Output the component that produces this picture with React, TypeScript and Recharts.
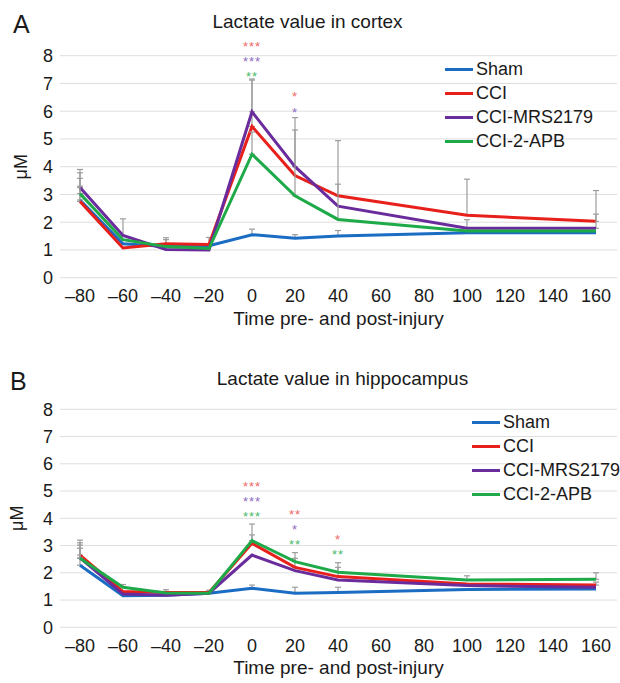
import { CartesianGrid, ErrorBar, Label, Legend, Line, LineChart, ReferenceDot, XAxis, YAxis } from "recharts";

const timePoints = [-80, -60, -40, -20, 0, 20, 40, 100, 160];
const xTicks = [-80, -60, -40, -20, 0, 20, 40, 60, 80, 100, 120, 140, 160];
const yTicks = [0, 1, 2, 3, 4, 5, 6, 7, 8];
const seriesKeys = ["sham", "cci", "mrs", "apb"];
const seriesNames = ["Sham", "CCI", "CCI-MRS2179", "CCI-2-APB"];

// A: cortex, mean lactate (µM)
const cortexSham = [2.8, 1.22, 1.12, 1.15, 1.55, 1.42, 1.5, 1.62, 1.62];
const cortexCci = [2.75, 1.07, 1.22, 1.2, 5.45, 3.68, 2.95, 2.25, 2.03];
const cortexMrs = [3.25, 1.52, 1.02, 1.0, 5.98, 4.0, 2.58, 1.78, 1.78];
const cortexApb = [3.03, 1.37, 1.12, 1.05, 4.45, 2.95, 2.1, 1.68, 1.68];
// upward error bars, null = none shown
const cortexShamErr = [0.78, null, 0.25, null, 0.2, 0.13, 0.2, null, null];
const cortexCciErr = [0.55, null, 0.22, 0.25, 1.67, null, 1.99, 1.3, 1.11];
const cortexMrsErr = [0.65, 0.6, null, null, 1.18, 1.77, null, 0.31, 0.51];
const cortexApbErr = [0.75, null, null, null, 0.8, 2.37, 1.27, null, null];

// B: hippocampus
const hippoSham = [2.28, 1.16, 1.18, 1.25, 1.43, 1.25, 1.28, 1.39, 1.41];
const hippoCci = [2.65, 1.31, 1.28, 1.28, 3.08, 2.2, 1.86, 1.59, 1.55];
const hippoMrs = [2.55, 1.22, 1.18, 1.25, 2.65, 2.08, 1.74, 1.53, 1.47];
const hippoApb = [2.53, 1.47, 1.26, 1.25, 3.18, 2.41, 2.02, 1.74, 1.76];
const hippoShamErr = [0.62, null, null, null, 0.12, 0.22, 0.19, null, null];
const hippoCciErr = [0.55, null, 0.1, 0.08, 0.31, 0.33, 0.34, null, 0.11];
const hippoMrsErr = [0.47, null, null, null, null, null, null, null, null];
const hippoApbErr = [0.57, 0.1, null, null, 0.61, 0.33, 0.35, 0.15, 0.24];

// significance marks: [time, level, text, series]
const cortexStars: [number, number, string, string][] = [
  [0, 8.45, "***", "cci"],
  [0, 7.9, "***", "mrs"],
  [0, 7.37, "**", "apb"],
  [20, 6.65, "*", "cci"],
  [20, 6.08, "*", "mrs"],
];
const hippoStars: [number, number, string, string][] = [
  [0, 5.28, "***", "cci"],
  [0, 4.73, "***", "mrs"],
  [0, 4.18, "***", "apb"],
  [20, 4.24, "**", "cci"],
  [20, 3.69, "*", "mrs"],
  [20, 3.17, "**", "apb"],
  [40, 3.33, "*", "cci"],
  [40, 2.8, "**", "apb"],
];

const COLORS: Record<string, string> = {
  sham: "#1b6cc3",
  cci: "#e8201b",
  mrs: "#6a2c9c",
  apb: "#1eaa49",
};
const STAR_COLORS: Record<string, string> = {
  cci: "#ef6a66",
  mrs: "#8f6fc2",
  apb: "#4bbb6c",
};
const FONT = "'Liberation Sans', Arial, sans-serif";

function buildRows(means: number[][], errs: (number | null)[][]) {
  return timePoints.map((t, i) => {
    const row: Record<string, any> = { t };
    seriesKeys.forEach((k, s) => {
      row[k] = means[s][i];
      const e = errs[s][i];
      row[k + "Err"] = e == null ? undefined : [0, e];
    });
    return row;
  });
}

const cortexRows = buildRows(
  [cortexSham, cortexCci, cortexMrs, cortexApb],
  [cortexShamErr, cortexCciErr, cortexMrsErr, cortexApbErr]
);
const hippoRows = buildRows(
  [hippoSham, hippoCci, hippoMrs, hippoApb],
  [hippoShamErr, hippoCciErr, hippoMrsErr, hippoApbErr]
);

const fmtTime = (v: number) => (v < 0 ? "\u2013" + Math.abs(v) : String(v));

function LegendBox() {
  return (
    <div style={{ fontSize: 18, color: "#1a1a1a", fontFamily: FONT, whiteSpace: "nowrap" }}>
      {seriesKeys.map((k, i) => (
        <div key={k} style={{ display: "flex", alignItems: "center", height: 24 }}>
          <span style={{ display: "inline-block", flex: "none", width: 28, height: 3, background: COLORS[k], marginRight: 3 }} />
          <span>{seriesNames[i]}</span>
        </div>
      ))}
    </div>
  );
}

type PanelProps = {
  rows: Record<string, any>[];
  stars: [number, number, string, string][];
  height: number;
  top: number;
  axisHeight: number;
  legendLeft: number;
  legendTop: number;
  yLabelX: number;
  xLabelOffset: number;
};

function Panel({ rows, stars, height, top, axisHeight, legendLeft, legendTop, yLabelX, xLabelOffset }: PanelProps) {
  return (
    <LineChart
      width={620}
      height={height}
      data={rows}
      margin={{ top, right: 3, left: 0, bottom: 0 }}
      style={{ fontFamily: FONT }}
    >
      <CartesianGrid vertical={false} stroke="#dedede" strokeWidth={1} />
      <XAxis
        dataKey="t"
        type="number"
        domain={[-80, 160]}
        ticks={xTicks}
        interval={0}
        padding={{ left: 20, right: 21 }}
        axisLine={false}
        tickLine={false}
        tickSize={0}
        tickMargin={11.5}
        height={axisHeight}
        tick={{ fill: "#1a1a1a", fontSize: 18 }}
        tickFormatter={fmtTime}
      >
        <Label
          value="Time pre- and post-injury"
          position="insideBottom"
          offset={xLabelOffset}
          style={{ fill: "#1a1a1a", fontSize: 19 }}
        />
      </XAxis>
      <YAxis
        domain={[0, 8]}
        ticks={yTicks}
        interval={0}
        width={60}
        axisLine={false}
        tickLine={false}
        tickSize={0}
        tickMargin={7}
        tick={{ fill: "#1a1a1a", fontSize: 18 }}
      >
        <Label
          content={(props: any) => {
            const vb = props.viewBox || {};
            const cy = vb.y + vb.height / 2;
            return (
              <text
                x={yLabelX}
                y={cy}
                transform={`rotate(-90, ${yLabelX}, ${cy})`}
                textAnchor="middle"
                fill="#1a1a1a"
                fontSize={18}
              >
                μM
              </text>
            );
          }}
        />
      </YAxis>
      <Legend
        layout="vertical"
        align="center"
        verticalAlign="middle"
        content={() => <LegendBox />}
        wrapperStyle={{ left: legendLeft, top: legendTop, width: 150 }}
      />
      {seriesKeys.map((k) => (
        <Line
          key={k}
          type="linear"
          dataKey={k}
          stroke={COLORS[k]}
          strokeWidth={3}
          dot={false}
          activeDot={false}
          isAnimationActive={false}
        >
          <ErrorBar
            dataKey={k + "Err"}
            direction="y"
            width={3}
            stroke="#9c9c9c"
            strokeWidth={1.2}
            isAnimationActive={false}
          />
        </Line>
      ))}
      {stars.map(([t, y, text, s], i) => (
        <ReferenceDot
          key={i}
          x={t}
          y={y}
          r={0}
          fill="none"
          stroke="none"
          ifOverflow="visible"
          label={{ value: text, position: "center", fill: STAR_COLORS[s], fontSize: 13, letterSpacing: 1, dy: 3 }}
        />
      ))}
    </LineChart>
  );
}

export default function App() {
  return (
    <div
      style={{
        position: "absolute",
        left: 0,
        top: 0,
        width: 620,
        height: 683,
        background: "#fff",
        fontFamily: FONT,
      }}
    >
      <svg width={620} height={683} style={{ position: "absolute", left: 0, top: 0 }}>
        <text x={13} y={33} fontSize={25} fill="#1a1a1a">A</text>
        <text x={307.5} y={28.3} fontSize={19} fill="#1a1a1a" textAnchor="middle">
          Lactate value in cortex
        </text>
        <text x={10} y={390} fontSize={25} fill="#1a1a1a">B</text>
        <text x={342.5} y={385} fontSize={19} fill="#1a1a1a" textAnchor="middle">
          Lactate value in hippocampus
        </text>
      </svg>
      <div style={{ position: "absolute", left: 0, top: 0 }}>
        <Panel
          rows={cortexRows}
          stars={cortexStars}
          height={340}
          top={55.7}
          axisHeight={62.3}
          legendLeft={445}
          legendTop={57}
          yLabelX={27}
          xLabelOffset={15}
        />
      </div>
      <div style={{ position: "absolute", left: 0, top: 350 }}>
        <Panel
          rows={hippoRows}
          stars={hippoStars}
          height={333}
          top={59.3}
          axisHeight={55.7}
          legendLeft={472}
          legendTop={60.3}
          yLabelX={23}
          xLabelOffset={9}
        />
      </div>
    </div>
  );
}
